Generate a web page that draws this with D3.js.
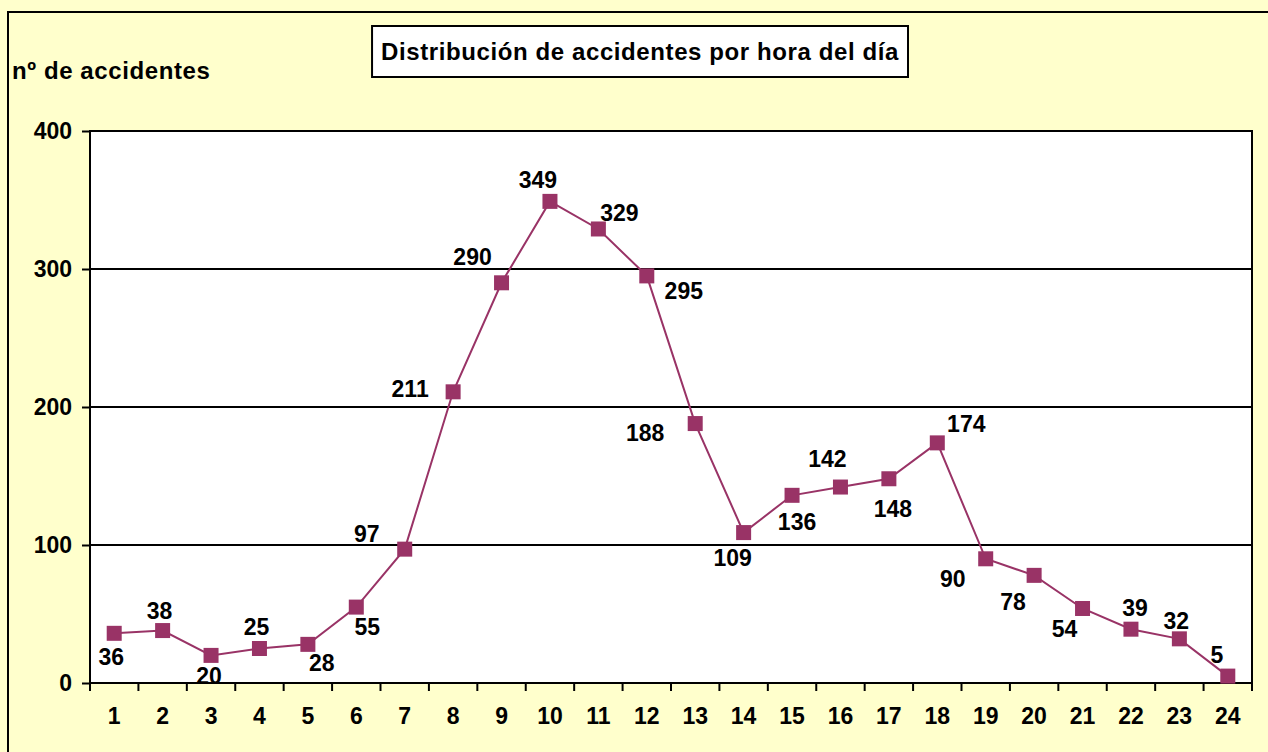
<!DOCTYPE html>
<html>
<head>
<meta charset="utf-8">
<script src="https://cdn.jsdelivr.net/npm/d3@7"></script>
<style>
  body { margin: 0; background: #ffffcc; }
  svg { display: block; }
</style>
</head>
<body>
<script>
// hours of the day and number of accidents
var hours = [1,2,3,4,5,6,7,8,9,10,11,12,13,14,15,16,17,18,19,20,21,22,23,24];
var accidents = [36,38,20,25,28,55,97,211,290,349,329,295,188,109,136,142,148,174,90,78,54,39,32,5];
var yTicks = [0, 100, 200, 300, 400];
var title = "Distribución de accidentes por hora del día";
var yTitle = "nº de accidentes";

// manual label offsets (dx, dy) relative to each marker, like the original
var labelOffsets = [
  [-3, 24], [-3, -20], [-2, 21], [-3, -22], [14, 19], [11, 20],
  [-38, -15], [-43, -3], [-29, -26], [-12, -21], [21, -16], [37, 15],
  [-50, 9], [-11, 25], [5, 27], [-13, -28], [4, 30], [29, -19],
  [-33, 20], [-21, 27], [-18, 21], [4, -21], [-3, -18], [-11, -21]
];

var w = 1268;
var h = 752;
var plotLeft = 90, plotRight = 1252, plotTop = 131, plotBottom = 683;
var lineColor = "#993366";
var font = "'Liberation Sans', Arial, Helvetica, sans-serif";

var svg = d3.select("body")
    .append("svg")
    .attr("width", w)
    .attr("height", h);

// outer chart border
svg.append("rect")
   .attr("x", 8).attr("y", 12)
   .attr("width", 1400).attr("height", 900)
   .attr("fill", "#ffffcc")
   .attr("stroke", "#000")
   .attr("stroke-width", 2);

var x = d3.scaleBand()
    .domain(hours)
    .range([plotLeft, plotRight]);

var y = d3.scaleLinear()
    .domain([0, 400])
    .range([plotBottom, plotTop]);

// plot area
svg.append("rect")
   .attr("x", plotLeft).attr("y", plotTop)
   .attr("width", plotRight - plotLeft).attr("height", plotBottom - plotTop)
   .attr("fill", "#fff")
   .attr("stroke", "#000")
   .attr("stroke-width", 2);

// gridlines
svg.selectAll("line.grid")
   .data(yTicks.slice(1, -1))
   .enter()
   .append("line")
   .attr("class", "grid")
   .attr("x1", plotLeft).attr("x2", plotRight)
   .attr("y1", function(d) { return y(d); })
   .attr("y2", function(d) { return y(d); })
   .attr("stroke", "#000")
   .attr("stroke-width", 2);

// y axis
var yAxis = svg.append("g")
   .attr("transform", "translate(" + plotLeft + ",0)")
   .call(d3.axisLeft(y).tickValues(yTicks).tickSize(8).tickPadding(10));

// x axis: labels at band centres, ticks between bands
var xAxis = svg.append("g")
   .attr("transform", "translate(0," + plotBottom + ")")
   .call(d3.axisBottom(x).tickSize(0).tickPadding(25));

var boundaries = hours.map(function(d) { return x(d); }).concat([plotRight]);
svg.selectAll("line.xtick")
   .data(boundaries)
   .enter()
   .append("line")
   .attr("class", "xtick")
   .attr("x1", function(d) { return d; })
   .attr("x2", function(d) { return d; })
   .attr("y1", plotBottom).attr("y2", plotBottom + 8)
   .attr("stroke", "#000")
   .attr("stroke-width", 2);

[yAxis, xAxis].forEach(function(g) {
  g.selectAll("path.domain").attr("stroke", "#000").attr("stroke-width", 2);
  g.selectAll(".tick line").attr("stroke", "#000").attr("stroke-width", 2);
  g.selectAll("text")
   .attr("font-family", font)
   .attr("font-size", "23px")
   .attr("font-weight", "bold")
   .attr("fill", "#000");
});
yAxis.select("path.domain").attr("d", "M0," + plotTop + "V" + plotBottom);
xAxis.select("path.domain").attr("d", "M" + plotLeft + ",0H" + plotRight);

var cx = function(d, i) { return x(hours[i]) + x.bandwidth() / 2; };

// line
var line = d3.line()
    .x(function(d, i) { return cx(d, i); })
    .y(function(d) { return y(d); });

svg.append("path")
   .datum(accidents)
   .attr("d", line)
   .attr("fill", "none")
   .attr("stroke", lineColor)
   .attr("stroke-width", 2);

// square markers
var ms = 15;
svg.selectAll("rect.marker")
   .data(accidents)
   .enter()
   .append("rect")
   .attr("class", "marker")
   .attr("x", function(d, i) { return cx(d, i) - ms / 2; })
   .attr("y", function(d) { return y(d) - ms / 2; })
   .attr("width", ms)
   .attr("height", ms)
   .attr("fill", lineColor);

// data labels
svg.selectAll("text.value")
   .data(accidents)
   .enter()
   .append("text")
   .attr("class", "value")
   .text(function(d) { return d; })
   .attr("text-anchor", "middle")
   .attr("dominant-baseline", "central")
   .attr("x", function(d, i) { return cx(d, i) + labelOffsets[i][0]; })
   .attr("y", function(d, i) { return y(d) + labelOffsets[i][1]; })
   .attr("font-family", font)
   .attr("font-size", "23px")
   .attr("font-weight", "bold")
   .attr("fill", "#000");

// y axis title
svg.append("text")
   .text(yTitle)
   .attr("x", 12)
   .attr("y", 79)
   .attr("font-family", font)
   .attr("font-size", "24px")
   .attr("letter-spacing", "0.6px")
   .attr("font-weight", "bold")
   .attr("fill", "#000");

// boxed chart title
var titleBox = svg.append("rect")
   .attr("fill", "#fff")
   .attr("stroke", "#000")
   .attr("stroke-width", 2);

var titleText = svg.append("text")
   .text(title)
   .attr("x", 640)
   .attr("y", 60)
   .attr("text-anchor", "middle")
   .attr("font-family", font)
   .attr("font-size", "24px")
   .attr("letter-spacing", "0.6px")
   .attr("font-weight", "bold")
   .attr("fill", "#000");

var bb = titleText.node().getBBox();
titleBox
   .attr("x", bb.x - 9)
   .attr("y", 26)
   .attr("width", bb.width + 18)
   .attr("height", 51);
</script>
</body>
</html>
